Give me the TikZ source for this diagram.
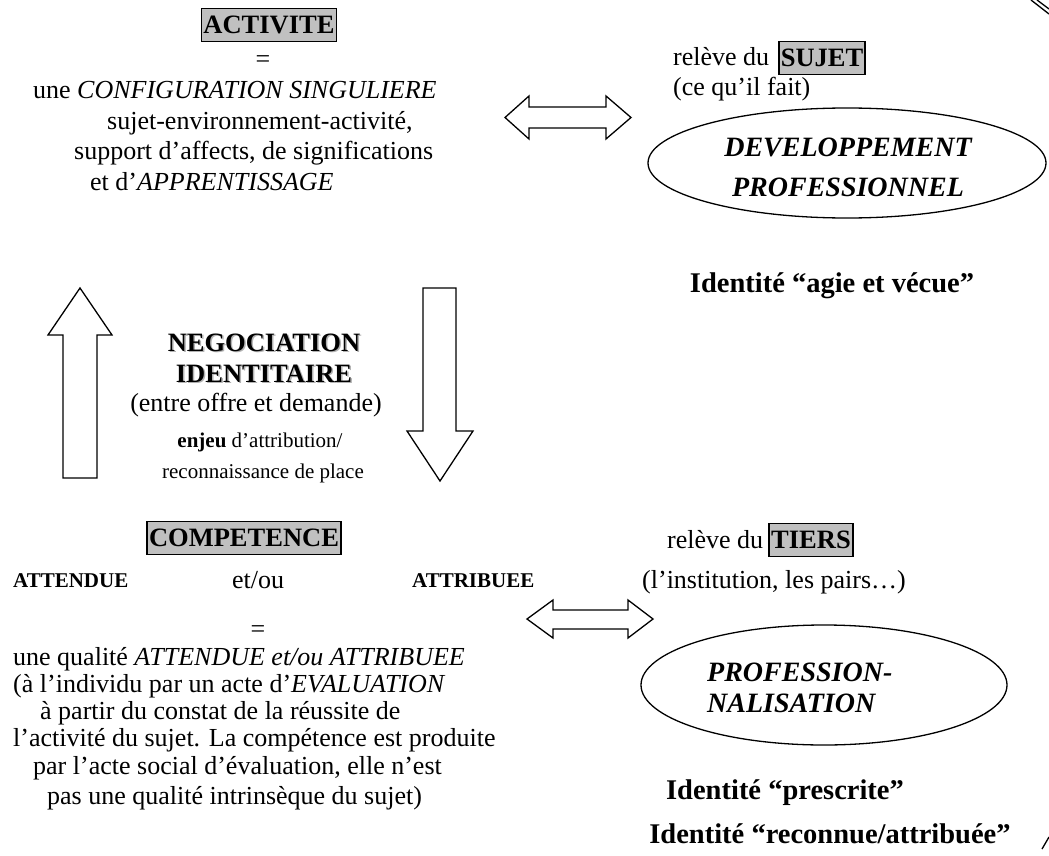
\documentclass[tikz,border=0pt]{standalone}
\usepackage{fontspec}
\setmainfont{Liberation Serif}
\usetikzlibrary{shapes.geometric}
\definecolor{boxgray}{HTML}{C0C0C0}
\begin{document}
\begin{tikzpicture}[x=1pt,y=-1pt,
  txt/.style={font=\fontsize{26}{30}\selectfont, inner sep=0pt},
  small/.style={font=\fontsize{21}{25}\selectfont, inner sep=0pt},
  smallbf/.style={font=\fontsize{21}{25}\selectfont\bfseries, inner sep=0pt},
  hdr/.style={font=\fontsize{26.5}{30}\selectfont\bfseries, draw, line width=1.6pt, fill=boxgray, inner xsep=2pt, inner ysep=0pt, minimum height=33pt},
  neg/.style={font=\fontsize{26.5}{30}\selectfont\bfseries, inner sep=0pt},
  ident/.style={font=\fontsize{28.5}{34}\selectfont\bfseries, inner sep=0pt},
  elltxt/.style={font=\fontsize{28}{32}\selectfont\bfseries\itshape, inner sep=0pt},
  ell/.style={draw, ellipse, line width=1.3pt, inner sep=0pt},
  blk/.style={draw, line width=1.3pt, line join=miter, fill=white}
]
\useasboundingbox (0,0) rectangle (1049,856);

% ---------- top left: ACTIVITE ----------
\node[hdr] (activite) at (269,25) {ACTIVITE};
\node[txt, anchor=base] (eq1) at (263,68) {=};
\node[txt, anchor=base west] (l1) at (33,99) {une \textit{CONFIGURATION SINGULIERE}};
\node[txt, anchor=base west] (l2) at (107,130) {sujet-environnement-activité,};
\node[txt, anchor=base west] (l3) at (74,160) {support d’affects, de significations};
\node[txt, anchor=base west] (l4) at (90,190) {et d’\textit{APPRENTISSAGE}};

% ---------- top right: SUJET ----------
\node[txt, anchor=base west] (rel1) at (673,66) {relève du};
\node[hdr] (sujet) at (822,58) {SUJET};
\node[txt, anchor=base west] (fait) at (673,96) {(ce qu’il fait)};
\node[ell, minimum width=398pt, minimum height=110pt] (dev) at (847,163) {};
\node[elltxt, anchor=base] (dev1) at (848,157) {DEVELOPPEMENT};
\node[elltxt, anchor=base] (dev2) at (848,196) {PROFESSIONNEL};
\node[ident, anchor=base] (agie) at (832,292) {Identité “agie et vécue”};

% top double arrow
\draw[blk] (505,117.5) -- (529,96) -- (529,107) -- (606,107) -- (606,96) -- (631,117.5)
  -- (606,139) -- (606,128) -- (529,128) -- (529,139) -- cycle;

% ---------- middle ----------
\draw[blk] (63,478) -- (63,335) -- (48,335) -- (80,288) -- (112,335) -- (97,335) -- (97,478) -- cycle;
\draw[blk] (423,288) -- (456,288) -- (456,431) -- (473,431) -- (440,481) -- (407,431) -- (423,431) -- cycle;

\node[neg, anchor=base, text=gray!60] at (265.5,352.5) {NEGOCIATION};
\node[neg, anchor=base] (neg1) at (264,351) {NEGOCIATION};
\node[neg, anchor=base, text=gray!60] at (265.5,383.5) {IDENTITAIRE};
\node[neg, anchor=base] (neg2) at (264,382) {IDENTITAIRE};
\node[txt, anchor=base] (neg3) at (256,411) {(entre offre et demande)};
\node[small, anchor=base] (neg4) at (260,447) {\textbf{enjeu} d’attribution/};
\node[small, anchor=base] (neg5) at (263,478) {reconnaissance de place};

% ---------- bottom left: COMPETENCE ----------
\node[hdr] (comp) at (244,538) {COMPETENCE};
\node[smallbf, anchor=base west] (att1) at (13,587) {ATTENDUE};
\node[txt, anchor=base west] (etou) at (232,588) {et/ou};
\node[smallbf, anchor=base west] (att2) at (412,587) {ATTRIBUEE};
\node[txt, anchor=base] (eq2) at (258,637) {=};
\node[txt, anchor=base west] (b1) at (13,665) {une qualité \textit{ATTENDUE et/ou ATTRIBUEE}};
\node[txt, anchor=base west] (b2) at (13,692) {(à l’individu par un acte d’\textit{EVALUATION}};
\node[txt, anchor=base west] (b3) at (40,719) {à partir du constat de la réussite de};
\node[txt, anchor=base west] (b4) at (13,746) {l’activité du sujet. La compétence est produite};
\node[txt, anchor=base west] (b5) at (33,774) {par l’acte social d’évaluation, elle n’est};
\node[txt, anchor=base west] (b6) at (47,804) {pas une qualité intrinsèque du sujet)};

% ---------- bottom right: TIERS ----------
\node[txt, anchor=base west] (rel2) at (667,548) {relève du};
\node[hdr] (tiers) at (811,540) {TIERS};
\node[txt, anchor=base west] (inst) at (642,588) {(l’institution, les pairs…)};
\draw[blk] (527,619) -- (553,600) -- (553,610) -- (628,610) -- (628,600) -- (653,619)
  -- (628,638) -- (628,629) -- (553,629) -- (553,638) -- cycle;
\node[ell, minimum width=366pt, minimum height=120pt] (prof) at (824,685) {};
\node[elltxt, anchor=base west] (prof1) at (707,681) {PROFESSION-};
\node[elltxt, anchor=base west] (prof2) at (707,712) {NALISATION};
\node[ident, anchor=base] (presc) at (785,799) {Identité “prescrite”};
\node[ident, anchor=base] (reco) at (830,843) {Identité “reconnue/attribuée”};

% corner fragments
\draw[line width=1.3pt] (1031,0) -- (1049,14);
\draw[line width=1.3pt] (1037,0) -- (1049,9);
\draw[line width=1.3pt] (1049,837) -- (1042,849);
\end{tikzpicture}
\end{document}
